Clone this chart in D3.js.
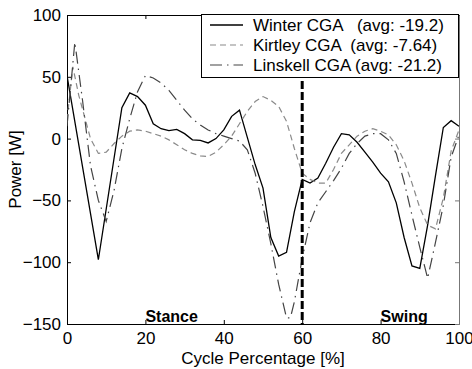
<!DOCTYPE html>
<html><head><meta charset="utf-8">
<script src="https://cdn.jsdelivr.net/npm/d3@7"></script>
<style>body{margin:0;background:#fff}svg{display:block}text{font-family:"Liberation Sans",Arial,sans-serif}</style>
</head><body><svg id="c" width="472" height="369"></svg>
<script>
const winterX = [0,8,14,16,18,20,22,24,26,28,30,32,34,36,38,40,42,44,46,48,50,52,54,56,58,60,62,64,66,68,70,72,74,76,78,80,82,84,86,88,90,92,94,96,98,100];
const winterY = [51,-98,25,37,34,27,12,8,6.5,7.5,4,-1,-1.5,-3.5,0,7,18,23,1,-21,-40,-80,-95,-92,-59,-33,-36,-32,-20,-7,4,3,-3,-11,-19,-28,-35,-52,-80,-103,-105,-70,-30,9,14.5,10];
const kirtleyX = [0,1.5,3,6,8,10,12,14,16,18,20,22,24,26,28,30,32,34,36,38,40,42,44,46,48,50,52,54,56,58,60,62,64,66,68,70,72,74,76,78,80,82,84,86,88,90,92,94,96,98,100];
const kirtleyY = [15,58,35,0,-12,-11,-4,2,6,7,6,4,2,-1,-5,-9,-12,-14,-14.5,-11,-5,2,12,22,30,34,31,26,14,-8,-28,-33,-36,-36,-25,-12,-5,2,6,8,6,3,-5,-18,-36,-56,-70,-73,-48,-10,7];
const linskellX = [0,2,4,6,8,10,12,14,16,18,20,22,24,26,28,30,32,34,36,38,40,42,44,46,48,50,52,54,56,57,58,60,62,64,66,68,70,72,74,76,78,80,82,84,86,88,90,92,94,96,98,100];
const linskellY = [10,78,30,-22,-50,-67,-42,-8,16,38,51,49,45,39,31,23,16,11,7,4,2,0,-2,-9,-28,-55,-85,-118,-145,-145,-132,-97,-68,-52,-43,-34,-24,-12,-4,2,4,4,-1,-12,-35,-62,-88,-113,-84,-54,-15,3];
const seriesNames = ["Winter CGA   (avg: -19.2)","Kirtley CGA  (avg: -7.64)","Linskell CGA (avg: -21.2)"];
const xTicks = [0,20,40,60,80,100];
const yTicks = [-150,-100,-50,0,50,100];
const phaseLabels = [{t:"Stance",p:20},{t:"Swing",p:80}];
const dividerAt = 60;

const svg = d3.select("#c");
const L=67,R=459,T=15,B=324;
const x = d3.scaleLinear().domain([0,100]).range([L,R]);
const y = d3.scaleLinear().domain([-150,100]).range([B,T]);
const FS = "17px";

svg.append("defs").append("clipPath").attr("id","clip").append("rect")
  .attr("x",L).attr("y",T).attr("width",R-L).attr("height",B-T);

// axes (ticks inside)
const gx = svg.append("g").attr("transform",`translate(0,${B})`)
  .call(d3.axisBottom(x).tickValues(xTicks).tickSizeInner(-4).tickSizeOuter(0).tickPadding(8));
const gy = svg.append("g").attr("transform",`translate(${L},0)`)
  .call(d3.axisLeft(y).tickValues(yTicks).tickSizeInner(-4).tickSizeOuter(0).tickPadding(6));
const gt = svg.append("g").attr("transform",`translate(0,${T})`)
  .call(d3.axisTop(x).tickValues(xTicks).tickSizeInner(-4).tickSizeOuter(0).tickFormat(""));
const gr = svg.append("g").attr("transform",`translate(${R},0)`)
  .call(d3.axisRight(y).tickValues(yTicks).tickSizeInner(-4).tickSizeOuter(0).tickFormat(""));
[gx,gy,gt,gr].forEach(g=>{
  g.selectAll("text").style("font-size",FS).attr("fill","#000");
  g.selectAll("line").attr("stroke","#000");
  g.select(".domain").attr("stroke","#000");
});
gr.select(".domain").attr("stroke","#777");
gr.selectAll("line").attr("stroke","#777");

const line = d3.line().x(d=>x(d[0])).y(d=>y(d[1]));
const plot = svg.append("g").attr("clip-path","url(#clip)");
const styles = [
  {c:"#000",w:1.3,dash:null},
  {c:"#8a8a8a",w:1.2,dash:"6,4"},
  {c:"#444",w:1.2,dash:"12,5,1.5,5"}
];
const data = [
  d3.zip(winterX,winterY),
  d3.zip(kirtleyX,kirtleyY),
  d3.zip(linskellX,linskellY)
];
data.forEach((d,i)=>{
  plot.append("path").datum(d).attr("d",line).attr("fill","none")
    .attr("stroke",styles[i].c).attr("stroke-width",styles[i].w)
    .attr("stroke-dasharray",styles[i].dash);
});

// divider
plot.append("line").attr("x1",x(dividerAt)).attr("x2",x(dividerAt))
  .attr("y1",y(100)).attr("y2",y(-150))
  .attr("stroke","#000").attr("stroke-width",3).attr("stroke-dasharray","8,3");

// phase labels
phaseLabels.forEach(p=>{
  svg.append("text").attr("x",x(p.p)).attr("y",B-2).text(p.t)
    .style("font-size","16px").style("font-weight","bold");
});

// axis labels
svg.append("text").attr("x",(L+R)/2).attr("y",364).attr("text-anchor","middle")
  .style("font-size",FS).text("Cycle Percentage [%]");
svg.append("text").attr("transform",`translate(21,${(T+B)/2}) rotate(-90)`).attr("text-anchor","middle")
  .style("font-size",FS).text("Power [W]");

// legend
const lg = svg.append("g");
lg.append("rect").attr("x",201.5).attr("y",14.5).attr("width",257).attr("height",63)
  .attr("fill","#fff").attr("stroke","#000");
seriesNames.forEach((n,i)=>{
  const cy = 25+i*20;
  lg.append("line").attr("x1",210).attr("x2",243).attr("y1",cy).attr("y2",cy)
    .attr("stroke",styles[i].c).attr("stroke-width",styles[i].w).attr("stroke-dasharray",styles[i].dash);
  lg.append("text").attr("x",253).attr("y",cy+6).style("font-size",FS).style("white-space","pre")
    .attr("xml:space","preserve").text(n);
});
</script></body></html>
